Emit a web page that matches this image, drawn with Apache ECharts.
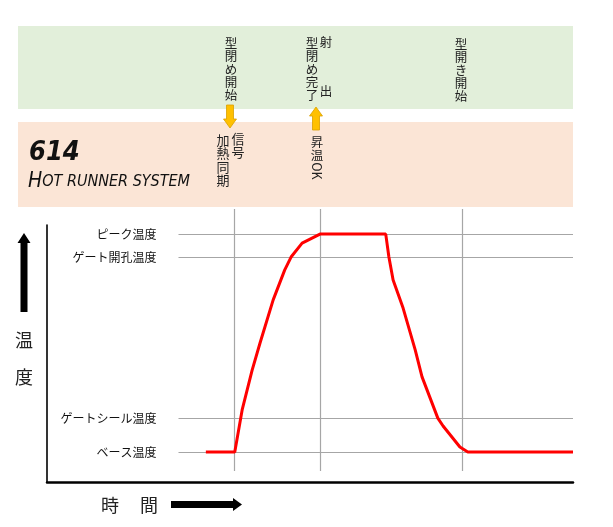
<!DOCTYPE html>
<html>
<head>
<meta charset="utf-8">
<script src="https://cdn.jsdelivr.net/npm/echarts@6/dist/echarts.min.js"></script>
<style>
  html, body { margin: 0; padding: 0; background: #fff; }
  #chart { width: 613px; height: 527px; }
</style>
</head>
<body>
<div id="chart"></div>
<script>
// 温度プロファイル（時間 0-100, 温度 0-100 の相対値）
const timeVals = [30.2, 35.7, 37.1, 39.0, 40.5, 43.0, 45.2, 46.4, 48.5, 51.9,
  64.4, 65.0, 65.8, 67.7, 70.0, 71.3, 74.3, 75.3, 78.5, 80.0, 100];
const tempVals = [11.0, 11.0, 26.4, 41.0, 50.9, 66.7, 77.7, 82.4, 87.5, 90.8,
  90.8, 82.4, 74.0, 63.7, 48.4, 38.5, 23.4, 20.5, 12.8, 11.0, 11.0];

// 基準温度ライン
const refNames = ['ピーク温度', 'ゲート開孔温度', 'ゲートシール温度', 'ベース温度'];
const refTemps = [90.8, 82.4, 23.4, 11.0];
const refStart = 25;

// イベントのタイミング（縦線）
const eventTimes = [35.6, 51.9, 78.9];
const eventRange = [4, 100];

const jp = '"Noto Sans CJK JP", sans-serif';
const gridLine = { color: '#a6a6a6', width: 1.2, type: 'solid' };

const profile = timeVals.map((t, i) => [t, tempVals[i]]);

const refLines = refNames.map((name, i) => [
  { name: name, coord: [refStart, refTemps[i]] },
  { coord: [100, refTemps[i]] }
]);
const eventLines = eventTimes.map(t => [
  { coord: [t, eventRange[0]], label: { show: false } },
  { coord: [t, eventRange[1]] }
]);

function vtext(str) { return str.split('').join('\n'); }

function txt(x, y, text, size, extra) {
  return {
    type: 'text', x: x, y: y,
    style: Object.assign({
      text: text, fill: '#222', font: size + 'px ' + jp,
      textAlign: 'center', textVerticalAlign: 'top', lineHeight: size + 0.5
    }, extra || {})
  };
}

function downArrow(cx, y0, y1) {
  const hw = 3.5, head = 6.5, h = y1 - y0 - 9;
  return {
    type: 'polygon',
    shape: { points: [[cx - hw, y0], [cx + hw, y0], [cx + hw, y0 + h], [cx + head, y0 + h],
      [cx, y1], [cx - head, y0 + h], [cx - hw, y0 + h]] },
    style: { fill: '#ffc000', stroke: '#d9a000', lineWidth: 0.8 }
  };
}
function upArrow(cx, y0, y1) {
  const hw = 3.5, head = 6.5, h = 9;
  return {
    type: 'polygon',
    shape: { points: [[cx, y0], [cx + head, y0 + h], [cx + hw, y0 + h], [cx + hw, y1],
      [cx - hw, y1], [cx - hw, y0 + h], [cx - head, y0 + h]] },
    style: { fill: '#ffc000', stroke: '#d9a000', lineWidth: 0.8 }
  };
}

const chart = echarts.init(document.getElementById('chart'));

const option = {
  backgroundColor: '#fff',
  animation: false,
  grid: [
    { left: 47, right: 40, top: 209, bottom: 45 },
    { left: 47, right: 40, top: 225, bottom: 45 }
  ],
  xAxis: [
    { gridIndex: 0, type: 'value', min: 0, max: 100, show: false },
    {
      gridIndex: 1, type: 'value', min: 0, max: 100,
      axisLine: { show: true, lineStyle: { color: '#000', width: 2.5 } },
      axisTick: { show: false }, axisLabel: { show: false }, splitLine: { show: false }
    }
  ],
  yAxis: [
    { gridIndex: 0, type: 'value', min: 0, max: 100, show: false },
    {
      gridIndex: 1, type: 'value', min: 0, max: 100,
      axisLine: { show: true, lineStyle: { color: '#000', width: 1.6 } },
      axisTick: { show: false }, axisLabel: { show: false }, splitLine: { show: false }
    }
  ],
  series: [
    {
      type: 'line',
      xAxisIndex: 0, yAxisIndex: 0,
      data: [],
      markLine: {
        silent: true,
        symbol: 'none',
        animation: false,
        lineStyle: gridLine,
        label: {
          show: true, position: 'start', distance: 22,
          formatter: '{b}', color: '#111', fontSize: 12, fontFamily: jp
        },
        data: refLines.concat(eventLines)
      }
    },
    {
      type: 'line',
      xAxisIndex: 0, yAxisIndex: 0,
      data: profile,
      symbol: 'none',
      z: 5,
      lineStyle: { color: '#ff0000', width: 3 }
    }
  ],
  graphic: [
    // 工程の帯
    { type: 'rect', shape: { x: 18, y: 26, width: 555, height: 83 }, style: { fill: '#e2efda' }, z: -10 },
    { type: 'rect', shape: { x: 18, y: 122, width: 555, height: 85 }, style: { fill: '#fbe5d6' }, z: -10 },

    txt(231, 37, vtext('型閉め開始'), 12.5),
    txt(312, 37, vtext('型閉め完了'), 12.5),
    txt(326, 36, '射', 12.5),
    txt(326, 85, '出', 12.5),
    txt(461, 38, vtext('型開き開始'), 12.5),

    downArrow(230, 105, 128),
    upArrow(316, 107, 130),

    txt(238, 132, vtext('信号'), 13),
    txt(223, 133, vtext('加熱同期'), 13),
    txt(317, 136, vtext('昇温'), 12.5),
    {
      type: 'text', x: 317, y: 171, rotation: -Math.PI / 2,
      style: { text: 'OK', fill: '#222', font: '12.5px ' + jp, textAlign: 'center', textVerticalAlign: 'middle' }
    },

    // ロゴ
    {
      type: 'text', x: 29, y: 139,
      style: { text: '614', fill: '#111', font: 'italic bold 27px "DejaVu Sans Condensed", sans-serif', textVerticalAlign: 'top' }
    },
    {
      type: 'text', x: 28, y: 182,
      style: {
        text: '{a|H}{b|OT RUNNER SYSTEM}',
        textVerticalAlign: 'middle',
        rich: {
          a: { fill: '#111', font: 'italic 21px "DejaVu Sans Condensed", sans-serif' },
          b: { fill: '#111', font: 'italic 16px "DejaVu Sans Condensed", sans-serif' }
        }
      }
    },

    // 軸ラベルと矢印
    {
      type: 'polygon',
      shape: { points: [[24, 233], [30.5, 243], [27.5, 243], [27.5, 312], [20.5, 312], [20.5, 243], [17.5, 243]] },
      style: { fill: '#000' }
    },
    txt(24, 330, '温', 18, { lineHeight: 20 }),
    txt(24, 367, '度', 18, { lineHeight: 20 }),
    txt(110, 495, '時', 18, { lineHeight: 20 }),
    txt(149, 495, '間', 18, { lineHeight: 20 }),
    {
      type: 'polygon',
      shape: { points: [[171, 501], [233, 501], [233, 498], [242, 504.5], [233, 511], [233, 508], [171, 508]] },
      style: { fill: '#000' }
    }
  ]
};

chart.setOption(option);
</script>
</body>
</html>
